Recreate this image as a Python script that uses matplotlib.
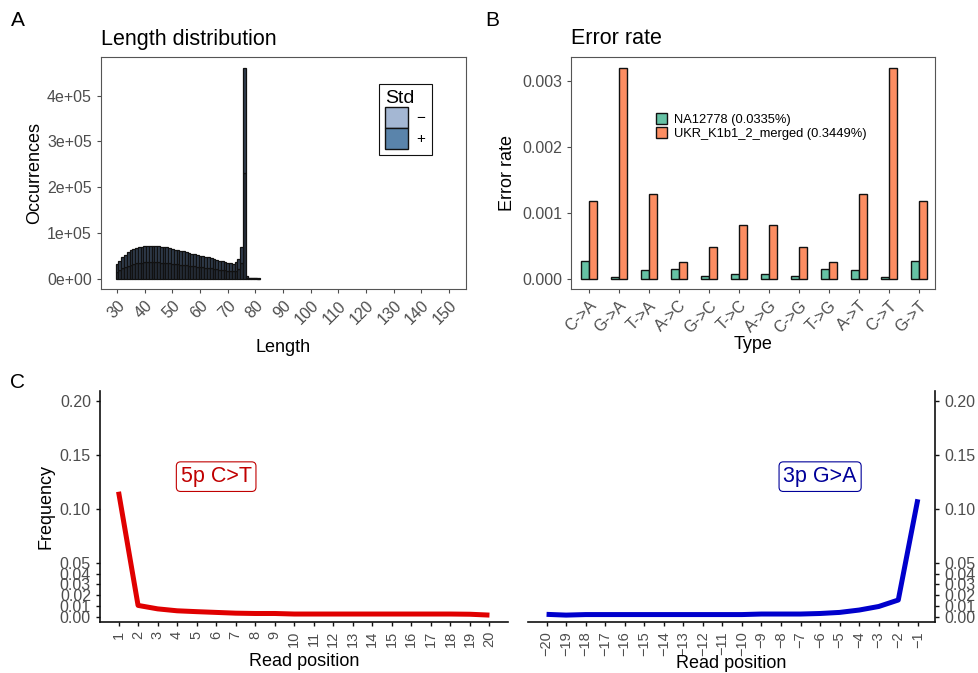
import numpy as np
import matplotlib.pyplot as plt
from matplotlib.patches import Patch

plt.rcParams['font.family'] = ['Liberation Sans', 'DejaVu Sans']

# ---- data ----
lengths = list(range(30, 82))
total_counts = [0.33, 0.40, 0.47, 0.53, 0.58, 0.62, 0.65, 0.67, 0.69, 0.70,
                0.71, 0.71, 0.71, 0.71, 0.71, 0.71, 0.70, 0.70, 0.69, 0.68,
                0.66, 0.64, 0.62, 0.61, 0.60, 0.58, 0.57, 0.55, 0.54, 0.52,
                0.51, 0.50, 0.48, 0.47, 0.46, 0.44, 0.42, 0.40, 0.38, 0.36,
                0.35, 0.34, 0.32, 0.36, 0.43, 0.70, 4.60, 0.06, 0.03, 0.02,
                0.02, 0.015]  # x 1e5
plus_counts = [0.15, 0.19, 0.23, 0.26, 0.29, 0.31, 0.33, 0.34, 0.35, 0.355,
               0.36, 0.36, 0.36, 0.36, 0.36, 0.36, 0.355, 0.35, 0.35, 0.345,
               0.335, 0.325, 0.315, 0.31, 0.305, 0.295, 0.29, 0.28, 0.275, 0.265,
               0.26, 0.255, 0.245, 0.24, 0.235, 0.225, 0.215, 0.205, 0.195, 0.185,
               0.18, 0.175, 0.165, 0.18, 0.21, 0.35, 2.30, 0.03, 0.015, 0.01,
               0.01, 0.008]  # x 1e5

types = ['C->A', 'G->A', 'T->A', 'A->C', 'G->C', 'T->C',
         'A->G', 'C->G', 'T->G', 'A->T', 'C->T', 'G->T']
rate_na = [0.27, 0.04, 0.14, 0.15, 0.05, 0.08, 0.08, 0.05, 0.15, 0.14, 0.04, 0.27]  # x 1e-3
rate_ukr = [1.18, 3.20, 1.29, 0.26, 0.49, 0.82, 0.82, 0.49, 0.26, 1.30, 3.20, 1.18]  # x 1e-3
series_labels = ['NA12778 (0.0335%)', 'UKR_K1b1_2_merged (0.3449%)']

pos5 = list(range(1, 21))
freq_ct = [0.116, 0.0105, 0.0073, 0.0055, 0.0047, 0.0040, 0.0033, 0.0030, 0.0030, 0.0025,
           0.0025, 0.0025, 0.0025, 0.0025, 0.0025, 0.0025, 0.0025, 0.0025, 0.0023, 0.0015]
pos3 = list(range(-20, 0))
freq_ga = [0.0022, 0.0015, 0.0020, 0.0020, 0.0020, 0.0020, 0.0020, 0.0020, 0.0020, 0.0020,
           0.0020, 0.0025, 0.0025, 0.0025, 0.0030, 0.0040, 0.0062, 0.0095, 0.0155, 0.109]

W, H = 979, 673
fig = plt.figure(figsize=(W / 100, H / 100), dpi=100)


def box(l, r, t, b):
    return [l / W, (H - b) / H, (r - l) / W, (b - t) / H]


tick_col = '#4d4d4d'

# ---- A ----
axA = fig.add_axes(box(101, 466, 57, 289))
tot = np.array(total_counts) * 1e5
plus = np.array(plus_counts) * 1e5
minus = tot - plus
c_minus, c_plus = '#a4b7d3', '#5a84ab'
axA.bar(lengths, plus, width=1, color='#262e3a', edgecolor='#111111', linewidth=0.9)
axA.bar(lengths, minus, bottom=plus, width=1, color='#323e4f', edgecolor='#111111', linewidth=0.9)
axA.set_xlim(24.2, 156.1)
axA.set_ylim(-22000, 484000)
axA.set_xticks(range(30, 151, 10))
axA.set_xticklabels([str(v) for v in range(30, 151, 10)], rotation=45, ha='right',
                    rotation_mode='anchor')
axA.set_yticks([0, 1e5, 2e5, 3e5, 4e5])
axA.set_yticklabels(['0e+00', '1e+05', '2e+05', '3e+05', '4e+05'])
axA.set_xlabel('Length', fontsize=13, labelpad=8)
axA.set_ylabel('Occurrences', fontsize=13, labelpad=3)
axA.set_title('Length distribution', loc='left', fontsize=15.5, pad=9)
leg = axA.legend([Patch(facecolor=c_minus, edgecolor='#111111'),
                  Patch(facecolor=c_plus, edgecolor='#111111')], ['\u2212', '+'],
                 title='Std', loc='upper right', bbox_to_anchor=(0.927, 0.918),
                 fancybox=False, edgecolor='#111111', framealpha=1,
                 handlelength=1.5, handleheight=1.75, labelspacing=0.0,
                 handletextpad=0.6, fontsize=11, borderpad=0.4,
                 title_fontproperties={'size': 14})
leg.get_frame().set_linewidth(0.8)
leg._legend_box.align = 'left'

# ---- B ----
axB = fig.add_axes(box(571, 935, 57, 289))
x = np.arange(len(types))
bw = 0.27
axB.bar(x - bw / 2, np.array(rate_na) * 1e-3, width=bw, color='#66c2a5',
        edgecolor='#111111', linewidth=1.0, label=series_labels[0])
axB.bar(x + bw / 2, np.array(rate_ukr) * 1e-3, width=bw, color='#fc8d62',
        edgecolor='#111111', linewidth=1.0, label=series_labels[1])
axB.set_xlim(-0.59, 11.54)
axB.set_ylim(-0.000147, 0.00337)
axB.set_xticks(x)
axB.set_xticklabels(types, rotation=45, ha='right', rotation_mode='anchor')
axB.set_yticks([0, 0.001, 0.002, 0.003])
axB.set_yticklabels(['0.000', '0.001', '0.002', '0.003'])
axB.set_xlabel('Type', fontsize=13, labelpad=0)
axB.set_ylabel('Error rate', fontsize=13)
axB.set_title('Error rate', loc='left', fontsize=15.5, pad=9)
axB.legend(loc='upper left', bbox_to_anchor=(0.215, 0.785), frameon=False,
           handlelength=0.9, handleheight=0.9, labelspacing=0.1,
           handletextpad=0.5, fontsize=9.3, borderpad=0)

for ax in (axA, axB):
    for s in ax.spines.values():
        s.set_color('#555555')
        s.set_linewidth(0.8)
    ax.tick_params(colors=tick_col, labelsize=11.5, length=3, width=0.8)

# ---- C ----
yticks = [0, 0.01, 0.02, 0.03, 0.04, 0.05, 0.10, 0.15, 0.20]
ylabs = ['0.00', '0.01', '0.02', '0.03', '0.04', '0.05', '0.10', '0.15', '0.20']

axC1 = fig.add_axes(box(100, 508, 391, 622))
axC1.plot(pos5, freq_ct, color='#e00000', lw=3.6, solid_capstyle='butt')
axC1.set_xlim(0.05, 20.95)
axC1.set_ylim(-0.0049, 0.2095)
axC1.set_xticks(pos5)
axC1.set_xticklabels([str(p) for p in pos5], rotation=90)
axC1.set_yticks(yticks)
axC1.set_yticklabels(ylabs)
axC1.set_xlabel('Read position', fontsize=13, labelpad=4)
axC1.set_ylabel('Frequency', fontsize=13)
axC1.text(6, 0.13, '5p C>T', color='#c00000', fontsize=15.5, ha='center', va='center',
          bbox=dict(boxstyle='round,pad=0.2', fc='white', ec='#c00000', lw=0.8))
axC1.spines['top'].set_visible(False)
axC1.spines['right'].set_visible(False)

axC2 = fig.add_axes(box(528, 935, 391, 622))
axC2.plot(pos3, freq_ga, color='#0000cc', lw=3.6, solid_capstyle='butt')
axC2.set_xlim(-20.95, -0.12)
axC2.set_ylim(-0.0049, 0.2095)
axC2.set_xticks(pos3)
axC2.set_xticklabels(['\u2212' + str(-p) for p in pos3], rotation=90)
axC2.set_yticks(yticks)
axC2.set_yticklabels(ylabs)
axC2.yaxis.tick_right()
axC2.set_xlabel('Read position', fontsize=13, labelpad=-1)
axC2.text(-6, 0.13, '3p G>A', color='#000099', fontsize=15.5, ha='center', va='center',
          bbox=dict(boxstyle='round,pad=0.2', fc='white', ec='#000099', lw=0.8))
axC2.spines['top'].set_visible(False)
axC2.spines['left'].set_visible(False)

for ax in (axC1, axC2):
    for s in ax.spines.values():
        s.set_color('#111111')
        s.set_linewidth(1.2)
    ax.tick_params(colors='#111111', labelcolor=tick_col, labelsize=11.5, length=3, width=1)
    ax.tick_params(axis='x', labelsize=10.5)

fig.text(18 / W, 1 - 20 / H, 'A', fontsize=15, va='center', ha='center')
fig.text(492 / W, 1 - 20 / H, 'B', fontsize=15, va='center', ha='center')
fig.text(18 / W, 1 - 383 / H, 'C', fontsize=15, va='center', ha='center')

fig.savefig('out.png', dpi=100)
